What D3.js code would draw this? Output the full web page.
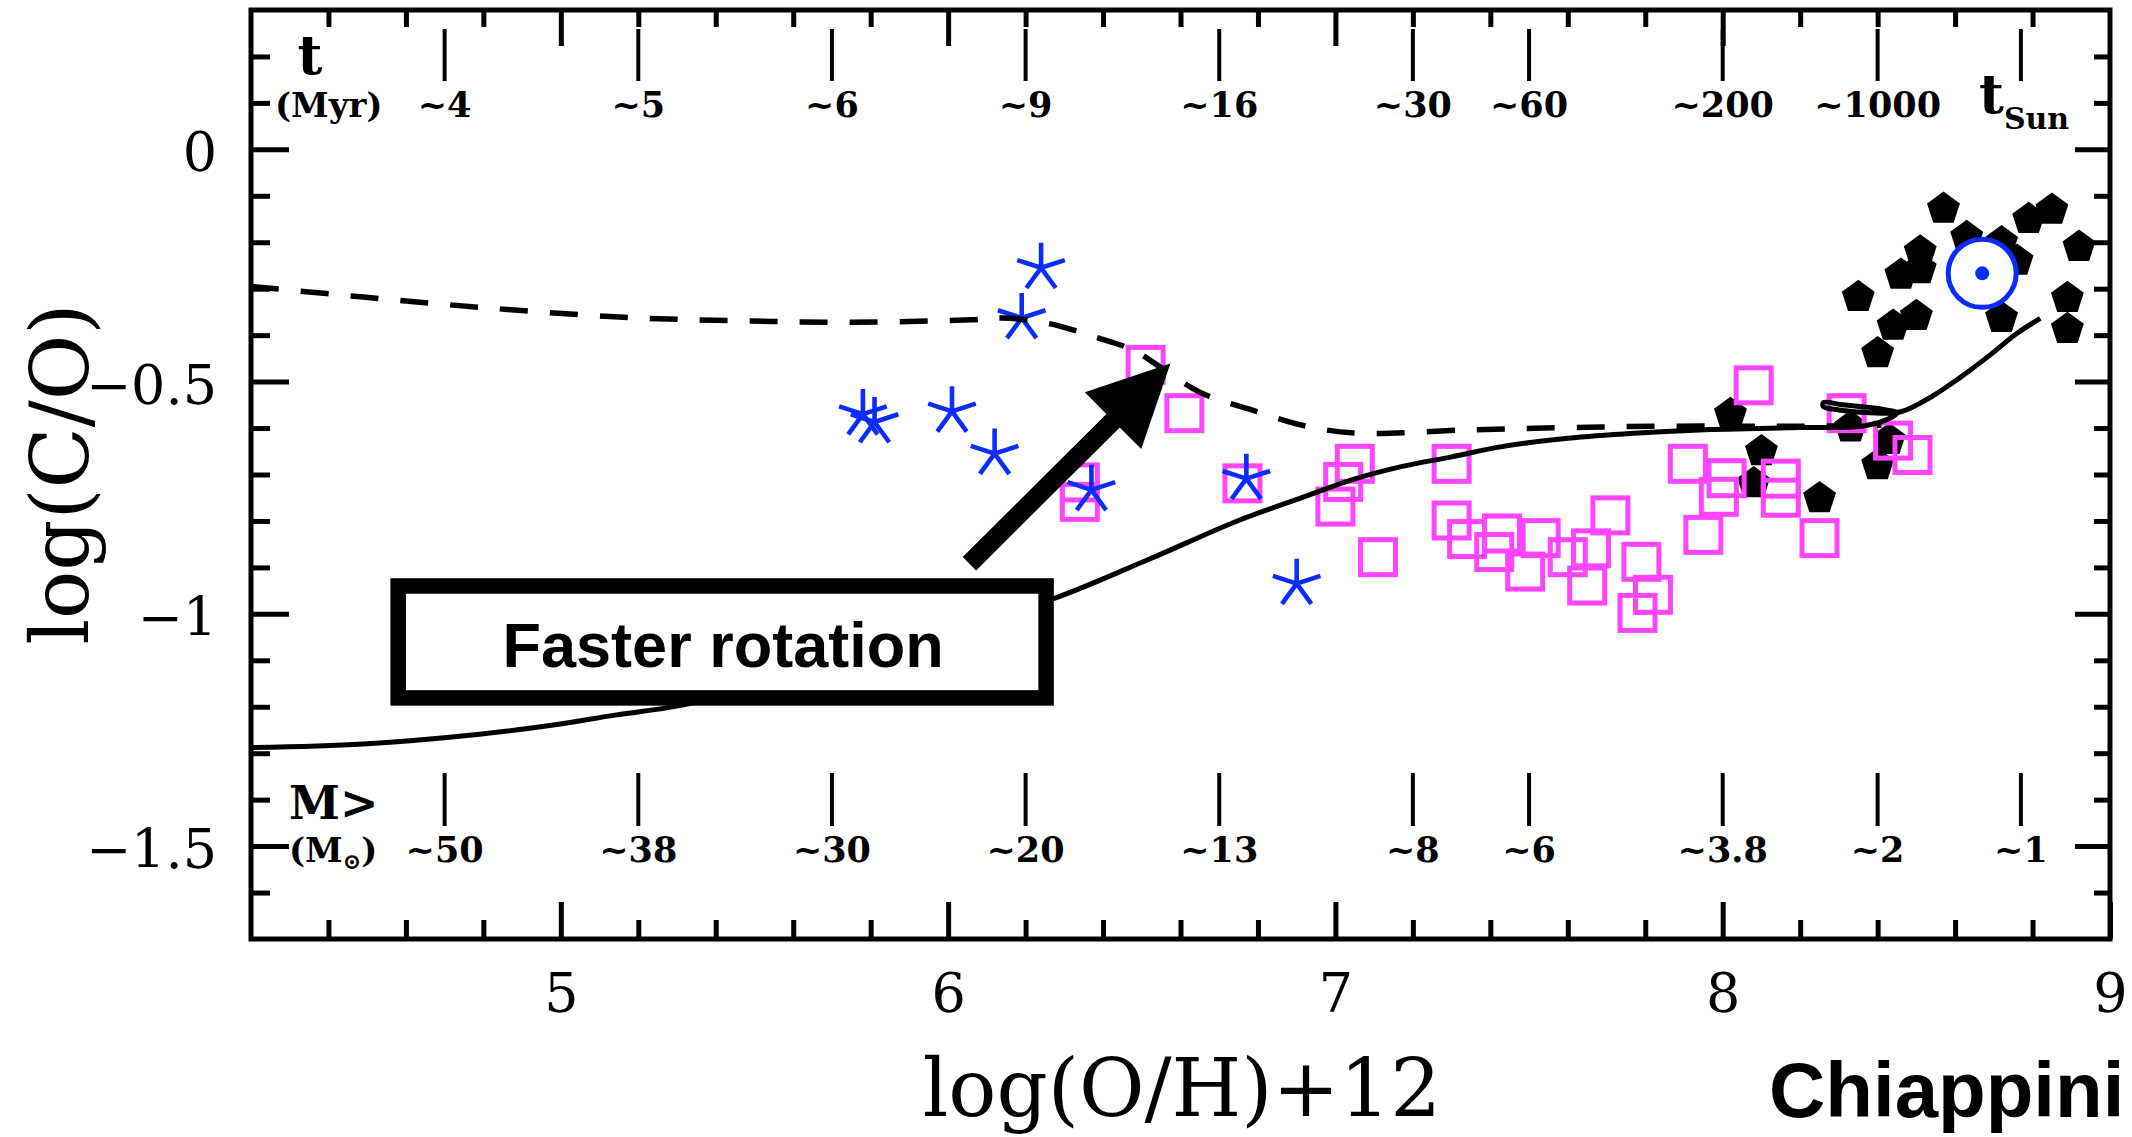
<!DOCTYPE html>
<html>
<head>
<meta charset="utf-8">
<script src="https://cdn.jsdelivr.net/npm/d3@7"></script>
<style>
  body { margin: 0; background: #fff; }
  svg { display: block; }
</style>
</head>
<body>
<svg id="chart" width="2132" height="1137"></svg>
<script>
// C/O vs O/H : halo stars, DLAs, local disc stars, and two chemical evolution models

var blueStars = [[6.24, -0.255], [6.19, -0.363], [5.78, -0.570], [5.81, -0.587], [6.01, -0.564],
                 [6.12, -0.655], [6.37, -0.733], [6.77, -0.709], [6.90, -0.935]];

var magentaSquares = [[6.51, -0.464], [6.61, -0.568], [6.34, -0.717], [6.34, -0.759], [6.76, -0.719],
                      [7.05, -0.677], [7.02, -0.716], [7.00, -0.769], [7.11, -0.878], [7.30, -0.677],
                      [7.30, -0.799], [7.34, -0.839], [7.41, -0.867], [7.43, -0.827], [7.49, -0.909],
                      [7.53, -0.837], [7.60, -0.878], [7.66, -0.859], [7.65, -0.939], [7.71, -0.788],
                      [7.79, -0.888], [7.82, -0.959], [7.78, -0.998], [7.91, -0.677], [7.95, -0.830],
                      [7.99, -0.748], [8.01, -0.708], [8.08, -0.508], [8.15, -0.709], [8.15, -0.750],
                      [8.25, -0.837], [8.32, -0.568], [8.44, -0.627], [8.49, -0.658]];

var blackPentagons = [[8.57, -0.128], [8.63, -0.189], [8.51, -0.220], [8.51, -0.258], [8.46, -0.270],
                      [8.35, -0.318], [8.44, -0.380], [8.50, -0.359], [8.40, -0.439], [8.72, -0.363],
                      [8.72, -0.200], [8.76, -0.240], [8.79, -0.150], [8.85, -0.130], [8.92, -0.210],
                      [8.89, -0.320], [8.89, -0.387], [8.02, -0.570], [8.10, -0.650], [8.08, -0.719],
                      [8.25, -0.751], [8.33, -0.599], [8.40, -0.680], [8.43, -0.626]];

var sunPoint = [8.67, -0.267];

// model with faster rotating massive stars (dashed)
var fastModel = [[4.20, -0.295], [4.49, -0.318], [4.79, -0.340], [5.15, -0.361], [5.45, -0.369],
                 [5.75, -0.372], [6.06, -0.367], [6.14, -0.363], [6.26, -0.375], [6.38, -0.404],
                 [6.48, -0.433], [6.55, -0.470], [6.65, -0.523], [6.78, -0.560], [6.93, -0.597],
                 [7.06, -0.611], [7.34, -0.604], [7.60, -0.599], [7.86, -0.596], [8.20, -0.596],
                 [8.41, -0.594]];

// reference model (solid)
var slowModel = [[4.20, -1.288], [4.49, -1.280], [4.79, -1.259], [4.99, -1.238], [5.14, -1.218],
                 [5.31, -1.197], [5.60, -1.140], [5.95, -1.050], [6.27, -0.968], [6.52, -0.882],
                 [6.75, -0.799], [6.93, -0.745], [7.04, -0.712], [7.17, -0.683], [7.30, -0.662],
                 [7.43, -0.640], [7.60, -0.622], [7.77, -0.611], [7.94, -0.604], [8.20, -0.599],
                 [8.36, -0.596], [8.42, -0.583], [8.45, -0.568], [8.40, -0.558], [8.31, -0.550],
                 [8.26, -0.545], [8.26, -0.554], [8.30, -0.561], [8.38, -0.567], [8.46, -0.565],
                 [8.54, -0.532], [8.61, -0.493], [8.69, -0.443], [8.76, -0.396], [8.82, -0.364]];

var xTicks = [5, 6, 7, 8, 9],
    yTicks = [0, -0.5, -1, -1.5];

var markX = [4.7, 5.2, 5.7, 6.2, 6.7, 7.2, 7.5, 8.0, 8.4, 8.77],
    ageLabels = ["~4", "~5", "~6", "~9", "~16", "~30", "~60", "~200", "~1000"],
    massLabels = ["~50", "~38", "~30", "~20", "~13", "~8", "~6", "~3.8", "~2", "~1"];

var svg = d3.select("#chart"),
    frameL = 251, frameR = 2110, frameT = 10, frameB = 939,
    blue = "#0a2cff", magenta = "#ff45ff",
    serif = "DejaVu Serif", sans = "Liberation Sans, Arial, sans-serif";

var x = d3.scaleLinear().domain([4.2, 9]).range([frameL, frameR]),
    y = d3.scaleLinear().domain([-1.7, 0.3]).range([frameB, frameT]);

// ---- ticks pointing into the frame
function inward(pos, axis, vals, len) {
  var g = svg.append("g").attr("transform", pos);
  g.call(axis.tickValues(vals).tickSize(-len).tickSizeOuter(0).tickFormat(""));
  g.select(".domain").remove();
  g.selectAll("line").attr("stroke", "#000").attr("stroke-width", 5);
  return g;
}

var minorX = d3.range(22, 45).map(function(d) { return d / 5; }).filter(function(d) { return d % 1 !== 0; }),
    minorY = d3.range(-16, 3).map(function(d) { return d / 10; }).filter(function(d) { return Math.abs(d * 2 % 1) > 1e-6; });

inward("translate(0," + frameB + ")", d3.axisBottom(x), minorX, 19);
inward("translate(0," + frameT + ")", d3.axisTop(x), minorX, 17);
inward("translate(" + frameL + ",0)", d3.axisLeft(y), minorY, 19);
inward("translate(" + frameR + ",0)", d3.axisRight(y), minorY, 16);
inward("translate(0," + frameT + ")", d3.axisTop(x), xTicks.slice(0, 4), 36);
inward("translate(" + frameR + ",0)", d3.axisRight(y), yTicks, 35);

var xAxis = svg.append("g").attr("transform", "translate(0," + frameB + ")");
xAxis.call(d3.axisBottom(x).tickValues(xTicks).tickSize(-37).tickSizeOuter(0).tickPadding(35).tickFormat(d3.format("d")));
xAxis.select(".domain").remove();
xAxis.selectAll("line").attr("stroke-width", 5);
xAxis.selectAll("text").attr("font-family", serif).attr("font-size", 54).attr("fill", "#000");

var yAxis = svg.append("g").attr("transform", "translate(" + frameL + ",0)");
yAxis.call(d3.axisLeft(y).tickValues(yTicks).tickSize(-38).tickSizeOuter(0).tickPadding(34).tickFormat(d3.format("~g")));
yAxis.select(".domain").remove();
yAxis.selectAll("line").attr("stroke-width", 5);
yAxis.selectAll("text").attr("font-family", serif).attr("font-size", 54).attr("fill", "#000").attr("dy", "0.4em");

// frame
svg.append("rect")
    .attr("x", frameL).attr("y", frameT)
    .attr("width", frameR - frameL).attr("height", frameB - frameT)
    .attr("fill", "none").attr("stroke", "#000").attr("stroke-width", 5);

// ---- age (top) and mass (bottom) scales
var marks = svg.append("g").attr("stroke", "#000").attr("stroke-width", 4);
marks.selectAll(".age").data(markX).enter().append("line")
    .attr("x1", function(d) { return x(d); }).attr("x2", function(d) { return x(d); })
    .attr("y1", frameT + 19).attr("y2", frameT + 71);
marks.selectAll(".mass").data(markX).enter().append("line")
    .attr("x1", function(d) { return x(d); }).attr("x2", function(d) { return x(d); })
    .attr("y1", frameB - 166).attr("y2", frameB - 113);

var lab = svg.append("g").attr("font-family", serif).attr("font-weight", "bold").attr("fill", "#000");

lab.selectAll(".agel").data(ageLabels).enter().append("text")
    .attr("x", function(d, i) { return x(markX[i]); })
    .attr("y", frameT + 107)
    .attr("text-anchor", "middle").attr("font-size", 35)
    .text(function(d) { return d; });

lab.selectAll(".massl").data(massLabels).enter().append("text")
    .attr("x", function(d, i) { return x(markX[i]); })
    .attr("y", frameB - 77)
    .attr("text-anchor", "middle").attr("font-size", 35)
    .text(function(d) { return d; });

var tsun = lab.append("text").attr("x", x(markX[9]) - 42).attr("y", frameT + 103).attr("font-size", 54);
tsun.append("tspan").text("t");
tsun.append("tspan").attr("font-size", 30).attr("dy", 16).text("Sun");

lab.append("text").attr("x", frameL + 59).attr("y", frameT + 64)
    .attr("text-anchor", "middle").attr("font-size", 54).text("t");
lab.append("text").attr("x", frameL + 24).attr("y", frameT + 107)
    .attr("font-size", 34).text("(Myr)");
lab.append("text").attr("x", frameL + 38).attr("y", frameB - 120)
    .attr("font-size", 46).text("M>");
var msun = lab.append("text").attr("x", frameL + 38).attr("y", frameB - 77).attr("font-size", 34);
msun.append("tspan").text("(M");
msun.append("tspan").attr("font-size", 22).attr("dy", 7).text("\u2299");
msun.append("tspan").attr("dy", -7).text(")");

// ---- markers
function pentagon(r) {
  var p = d3.range(5).map(function(i) {
    var a = -Math.PI / 2 + i * 2 * Math.PI / 5;
    return [r * Math.cos(a), r * Math.sin(a)];
  });
  return "M" + p.join("L") + "Z";
}

function asterisk(r) {
  return d3.range(5).map(function(i) {
    var a = -Math.PI / 2 + i * 2 * Math.PI / 5;
    return "M0,0L" + r * Math.cos(a) + "," + r * Math.sin(a);
  }).join("");
}

svg.append("g").selectAll("path").data(blackPentagons).enter().append("path")
    .attr("transform", function(d) { return "translate(" + x(d[0]) + "," + y(d[1]) + ")"; })
    .attr("d", pentagon(17.3))
    .attr("fill", "#000");

svg.append("g").selectAll("rect").data(magentaSquares).enter().append("rect")
    .attr("x", function(d) { return x(d[0]) - 17.5; })
    .attr("y", function(d) { return y(d[1]) - 17.5; })
    .attr("width", 35).attr("height", 35)
    .attr("fill", "none").attr("stroke", magenta).attr("stroke-width", 5);

svg.append("g").selectAll("path").data(blueStars).enter().append("path")
    .attr("transform", function(d) { return "translate(" + x(d[0]) + "," + y(d[1]) + ")"; })
    .attr("d", asterisk(25))
    .attr("fill", "none").attr("stroke", blue).attr("stroke-width", 4.6);

// the Sun
svg.append("circle").attr("cx", x(sunPoint[0])).attr("cy", y(sunPoint[1])).attr("r", 34)
    .attr("fill", "#fff").attr("stroke", blue).attr("stroke-width", 5);
svg.append("circle").attr("cx", x(sunPoint[0])).attr("cy", y(sunPoint[1])).attr("r", 7)
    .attr("fill", blue);

// ---- model curves
var line = d3.line()
    .x(function(d) { return x(d[0]); })
    .y(function(d) { return y(d[1]); })
    .curve(d3.curveCatmullRom);

svg.append("path").datum(slowModel).attr("d", line)
    .attr("fill", "none").attr("stroke", "#000").attr("stroke-width", 5);

svg.append("path").datum(fastModel).attr("d", line)
    .attr("fill", "none").attr("stroke", "#000").attr("stroke-width", 5.5)
    .attr("stroke-dasharray", "28,22");

// ---- annotation box and arrow
svg.append("rect")
    .attr("x", x(4.58)).attr("y", y(-0.940))
    .attr("width", x(6.253) - x(4.58)).attr("height", y(-1.181) - y(-0.940))
    .attr("fill", "#fff").attr("stroke", "#000").attr("stroke-width", 15.5);

svg.append("text")
    .attr("x", x(5.419)).attr("y", y(-1.114))
    .attr("text-anchor", "middle")
    .attr("font-family", sans).attr("font-weight", "bold").attr("font-size", 63)
    .text("Faster rotation");

var tail = [x(6.055), y(-0.892)], tip = [x(6.574), y(-0.461)],
    dx = tip[0] - tail[0], dy = tip[1] - tail[1], len = Math.sqrt(dx * dx + dy * dy),
    ux = dx / len, uy = dy / len, nx = -uy, ny = ux,
    base = [tip[0] - ux * 81, tip[1] - uy * 81];

svg.append("path")
    .attr("d", "M" + [tail[0] + nx * 9.5, tail[1] + ny * 9.5] +
               "L" + [base[0] + nx * 9.5, base[1] + ny * 9.5] +
               "L" + [base[0] + nx * 40, base[1] + ny * 40] +
               "L" + tip +
               "L" + [base[0] - nx * 40, base[1] - ny * 40] +
               "L" + [base[0] - nx * 9.5, base[1] - ny * 9.5] +
               "L" + [tail[0] - nx * 9.5, tail[1] - ny * 9.5] + "Z")
    .attr("fill", "#000");

// ---- axis titles
svg.append("text")
    .attr("transform", "translate(88,474) rotate(-90)")
    .attr("text-anchor", "middle")
    .attr("font-family", serif).attr("font-size", 80)
    .text("log(C/O)");

svg.append("text")
    .attr("x", 1182).attr("y", 1116)
    .attr("text-anchor", "middle")
    .attr("font-family", serif).attr("font-size", 80)
    .text("log(O/H)+12");

svg.append("text")
    .attr("x", 1769).attr("y", 1117)
    .attr("font-family", sans).attr("font-weight", "bold").attr("font-size", 78)
    .text("Chiappini");
</script>
</body>
</html>
